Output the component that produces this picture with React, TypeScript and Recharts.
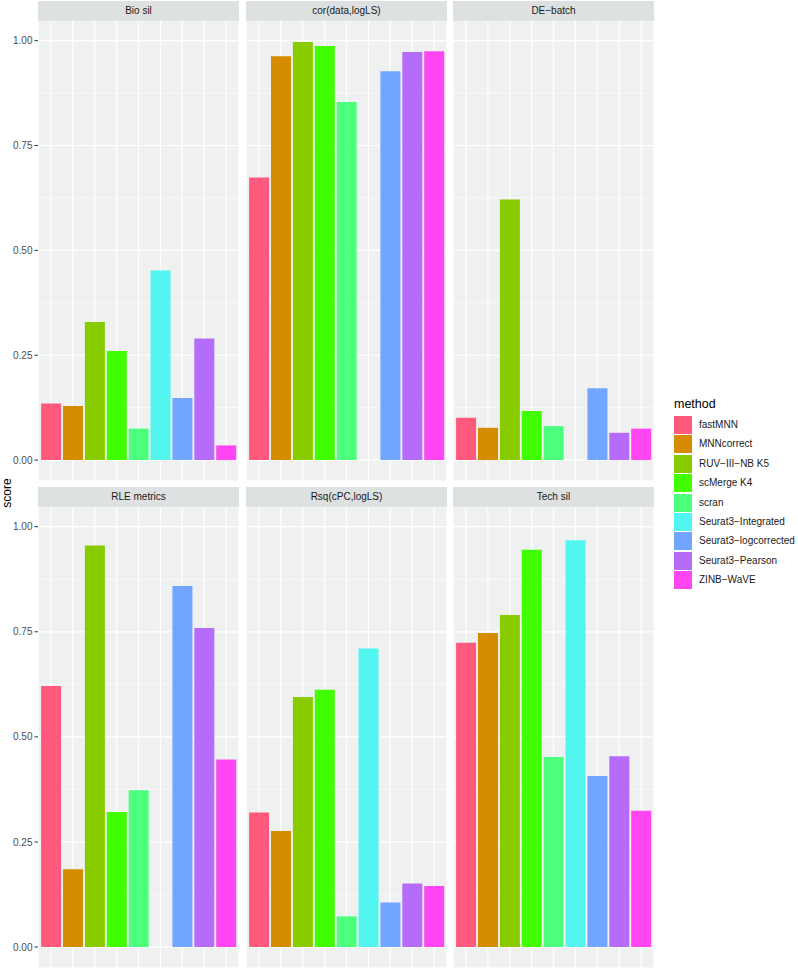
import { BarChart, Bar, Cell, XAxis, YAxis, CartesianGrid } from "recharts";

const methods = [
  "fastMNN",
  "MNNcorrect",
  "RUV\u2212III\u2212NB K5",
  "scMerge K4",
  "scran",
  "Seurat3\u2212Integrated",
  "Seurat3\u2212logcorrected",
  "Seurat3\u2212Pearson",
  "ZINB\u2212WaVE",
];
const methodColors = [
  "#FF5A7D",
  "#D68C00",
  "#88CC00",
  "#3FFF00",
  "#4CFF7C",
  "#52F5F0",
  "#70A6FF",
  "#B66CFA",
  "#FF46F2",
];

// scores per metric, in method order (null = not computed)
const bioSil = [0.135, 0.129, 0.329, 0.26, 0.075, 0.452, 0.148, 0.29, 0.035];
const corDataLogLS = [0.674, 0.963, 0.997, 0.987, 0.854, null, 0.927, 0.973, 0.975];
const deBatch = [0.101, 0.077, 0.621, 0.117, 0.081, null, 0.171, 0.065, 0.075];
const rleMetrics = [0.621, 0.185, 0.955, 0.321, 0.373, null, 0.859, 0.759, 0.446];
const rsqCpcLogLS = [0.32, 0.276, 0.595, 0.612, 0.073, 0.71, 0.106, 0.151, 0.145];
const techSil = [0.724, 0.747, 0.79, 0.945, 0.452, 0.968, 0.407, 0.454, 0.324];

const panelTitles = ["Bio sil", "cor(data,logLS)", "DE\u2212batch", "RLE metrics", "Rsq(cPC,logLS)", "Tech sil"];
const panelValues = [bioSil, corDataLogLS, deBatch, rleMetrics, rsqCpcLogLS, techSil];

// major ticks get labels, minor ones only a thin grid line
const yTicks = [0, 0.25, 0.5, 0.75, 1];
const yMinorTicks = [0.125, 0.375, 0.625, 0.875];
const yGridTicks = [...yTicks, ...yMinorTicks].sort((a, b) => a - b);

// ggplot-style 5% expansion of the shared y scale
const maxScore = Math.max(...panelValues.flat().map((v) => v ?? 0));
const yDomain = [-0.05 * maxScore, maxScore * 1.05];

const FONT = '"Liberation Sans", Arial, Helvetica, sans-serif';
const PANEL_W = 201;
const AXIS_W = 38;
const colLeft = [38, 246, 453];
const stripTop = [1, 487];
const panelTop = [21, 507];
const panelH = [460, 461];

const NoTick = () => <g />;

function YTick({ x, y, payload }: any) {
  if (!yTicks.includes(payload.value)) return <g />;
  return (
    <g>
      <line x1={x + 2} x2={x + 5.5} y1={y} y2={y} stroke="#333333" strokeWidth={1} />
      <text x={x} y={y} dy="0.355em" textAnchor="end" fill="#4D4D4D" fontSize={10} fontFamily={FONT}>
        {payload.value.toFixed(2)}
      </text>
    </g>
  );
}

function GridLine(props: any) {
  const minor = yMinorTicks.some((t) => Math.abs(t - (props.payload?.value ?? -1)) < 1e-9) || props.index % 2 === 1;
  return <line x1={props.x1} x2={props.x2} y1={props.y1} y2={props.y2} stroke="#FFFFFF" strokeWidth={minor ? 0.6 : 1.2} />;
}

function Panel({ title, values, col, row }: { title: string; values: (number | null)[]; col: number; row: number }) {
  const data = methods.map((m, i) => ({ method: m, score: values[i] }));
  const axisW = col === 0 ? AXIS_W : 0;
  return (
    <>
      <div
        style={{
          position: "absolute",
          left: colLeft[col],
          top: stripTop[row],
          width: PANEL_W,
          height: 20,
          background: "#DEE1E1",
          color: "#1A1A1A",
          fontSize: 10,
          lineHeight: "20px",
          textAlign: "center",
        }}
      >
        {title}
      </div>
      <div style={{ position: "absolute", left: colLeft[col] - axisW, top: panelTop[row] }}>
        <BarChart
          width={PANEL_W + axisW}
          height={panelH[row]}
          data={data}
          margin={{ top: 0, right: 0, bottom: 0, left: 0 }}
          barCategoryGap="5%"
        >
          <CartesianGrid fill="#EFF0F0" stroke="#FFFFFF" strokeWidth={1.2} horizontal={GridLine} />
          <XAxis
            dataKey="method"
            type="category"
            height={0}
            interval={0}
            tick={NoTick}
            tickLine={false}
            axisLine={false}
            padding={{ left: 2, right: 2 }}
          />
          <YAxis
            type="number"
            domain={yDomain}
            allowDataOverflow
            ticks={yGridTicks}
            interval={0}
            width={axisW}
            axisLine={false}
            tickLine={false}
            tickSize={3.5}
            tick={col === 0 ? YTick : NoTick}
          />
          <Bar dataKey="score" isAnimationActive={false}>
            {data.map((d, i) => (
              <Cell key={d.method} fill={methodColors[i]} />
            ))}
          </Bar>
        </BarChart>
      </div>
    </>
  );
}

export default function App() {
  return (
    <div
      style={{
        position: "absolute",
        left: 0,
        top: 0,
        width: 798,
        height: 968,
        overflow: "hidden",
        background: "#FFFFFF",
        fontFamily: FONT,
      }}
    >
      {panelTitles.map((t, i) => (
        <Panel key={t} title={t} values={panelValues[i]} col={i % 3} row={Math.floor(i / 3)} />
      ))}

      <svg style={{ position: "absolute", left: 0, top: 0 }} width={20} height={968}>
        <text x={10.5} y={493} transform="rotate(-90 10.5 493)" textAnchor="middle" fontSize={12} fill="#000" fontFamily={FONT}>
          score
        </text>
      </svg>

      <div style={{ position: "absolute", left: 674, top: 397, fontSize: 12.5, lineHeight: "14px", color: "#000" }}>
        method
      </div>
      {methods.map((m, i) => (
        <div key={m} style={{ position: "absolute", left: 674, top: 416 + i * 19.4, display: "flex", alignItems: "center" }}>
          <div style={{ width: 18, height: 18, background: methodColors[i] }} />
          <div style={{ marginLeft: 7, fontSize: 10, lineHeight: "18px", color: "#1A1A1A", whiteSpace: "nowrap" }}>{m}</div>
        </div>
      ))}
    </div>
  );
}
